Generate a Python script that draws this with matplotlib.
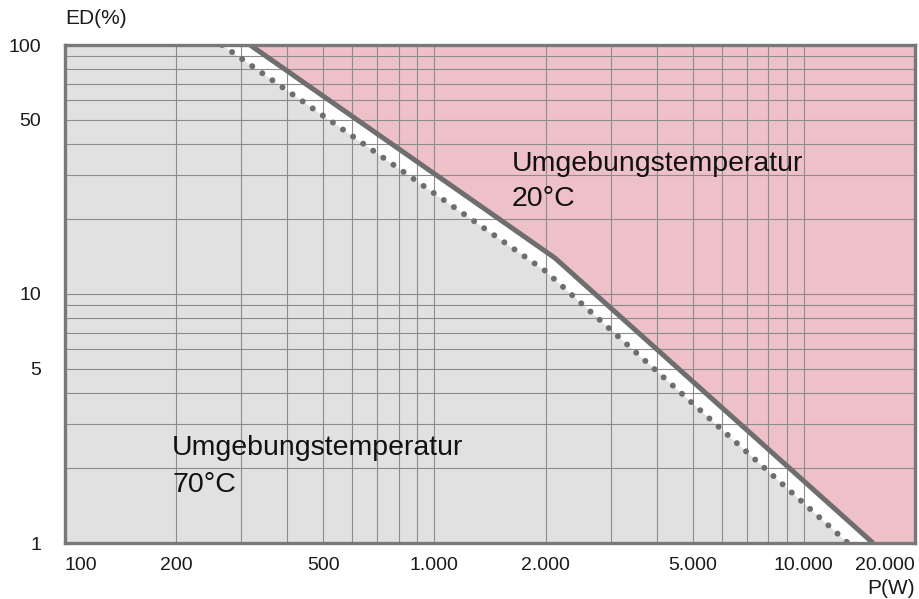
import matplotlib.pyplot as plt
import numpy as np

plt.rcParams.update({
    'font.family': ['Liberation Sans', 'DejaVu Sans'],
    'font.size': 14,
})

# --- Data ---
# boundary for ambient temperature 20 °C (solid line)
solid_p = np.array([317, 2120, 15390])
solid_ed = np.array([100, 13.95, 1])
# boundary for ambient temperature 70 °C (dotted line)
dot_p = np.array([266, 1993, 13170])
dot_ed = np.array([100, 12.4, 1])

x_ticks = [100, 200, 500, 1000, 2000, 5000, 10000, 20000]
x_labels = ['100', '200', '500', '1.000', '2.000', '5.000', '10.000', '20.000']
x_minor = [300, 400, 600, 700, 800, 900, 3000, 4000, 6000, 7000, 8000, 9000]
y_ticks = [1, 5, 10, 50, 100]
y_labels = ['1', '5', '10', '50', '100']
y_minor = [2, 3, 4, 6, 7, 8, 9, 20, 30, 40, 60, 70, 80, 90]

pink = '#eec1c8'
grey = '#e1e1e1'
line_c = '#6e6e6e'

W, H = 919, 599
fig = plt.figure(figsize=(W / 100, H / 100), dpi=100)
ax = fig.add_axes([65 / W, 1 - 543 / H, 850 / W, 498 / H])
ax.set_xscale('log')
ax.set_yscale('log')
ax.set_xlim(100, 20000)
ax.set_ylim(1, 100)
ax.set_facecolor(pink)

# regions
ax.fill_between(np.r_[100, solid_p], np.r_[100, solid_ed], 1, color='white', lw=0, zorder=1)
ax.fill_between(np.r_[100, dot_p], np.r_[100, dot_ed], 1, color=grey, lw=0, zorder=1.5)

# grid
ax.set_xticks(x_ticks)
ax.set_xticklabels(x_labels)
ax.set_xticks(x_minor, minor=True)
ax.set_yticks(y_ticks)
ax.set_yticklabels(y_labels)
ax.set_yticks(y_minor, minor=True)
ax.tick_params(which='both', length=0)
ax.tick_params(axis='x', pad=10, labelsize=14, colors='#1a1a1a')
ax.tick_params(axis='y', pad=17, labelsize=14, colors='#1a1a1a')
ax.grid(which='both', color='#8c8c8c', lw=0.8, zorder=2)
ax.set_axisbelow(False)
for gl in ax.get_xgridlines() + ax.get_ygridlines():
    gl.set_zorder(2)

xl = ax.get_xticklabels()
xl[0].set_ha('left')
xl[-1].set_ha('right')

# boundary lines
ax.plot(solid_p, solid_ed, color=line_c, lw=3.6, solid_capstyle='butt', zorder=3)
ax.plot(dot_p, dot_ed, color=line_c, lw=4.3, linestyle=(0, (0.01, 2.05)),
        dash_capstyle='round', zorder=3)

for s in ax.spines.values():
    s.set_color('#787878')
    s.set_linewidth(2.4)
    s.set_zorder(4)

# texts
ax.text(0.526, 0.787, 'Umgebungstemperatur\n20°C', transform=ax.transAxes,
        fontsize=20.5, va='top', ha='left', color='#111111', linespacing=1.45, zorder=5)
ax.text(0.126, 0.216, 'Umgebungstemperatur\n70°C', transform=ax.transAxes,
        fontsize=20.5, va='top', ha='left', color='#111111', linespacing=1.55, zorder=5)
fig.text(65 / W, 1 - 18 / H, 'ED(%)', fontsize=15, va='center', ha='left', color='#1a1a1a')
fig.text(915 / W, 1 - 588 / H, 'P(W)', fontsize=15, va='center', ha='right', color='#1a1a1a')

plt.savefig('out.png', dpi=100)
